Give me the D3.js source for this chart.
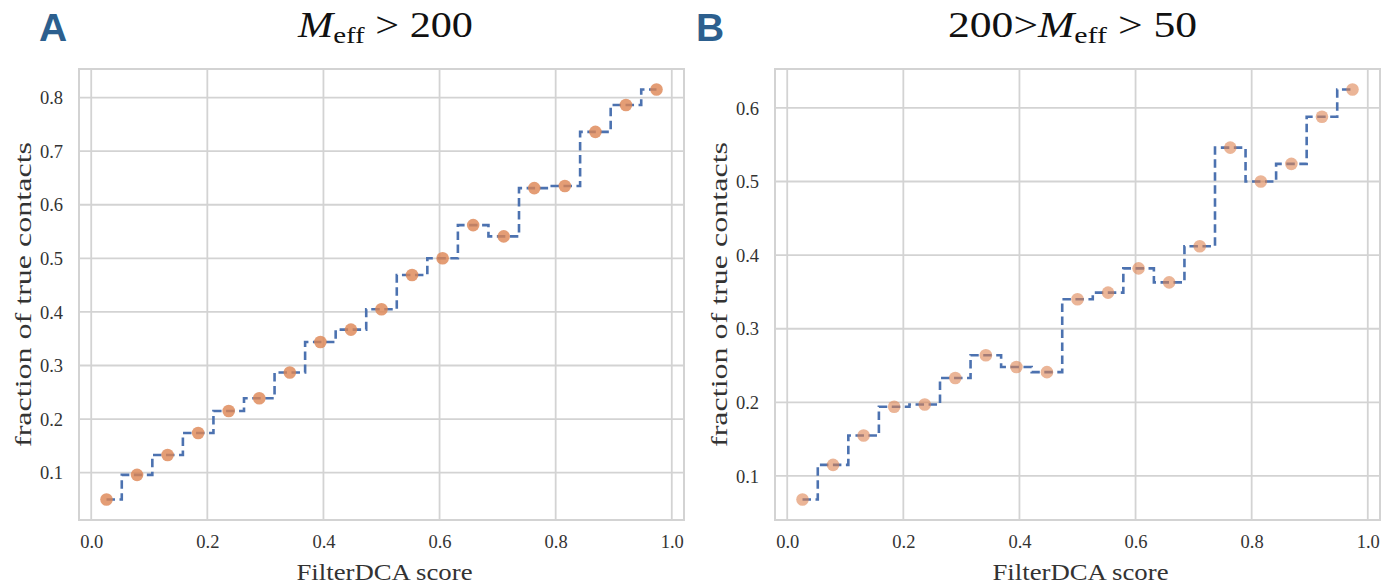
<!DOCTYPE html>
<html>
<head>
<meta charset="utf-8">
<script src="https://cdn.jsdelivr.net/npm/d3@7"></script>
<style>
  html, body { margin: 0; padding: 0; background: #fff; }
  svg text { font-family: "Liberation Serif", "Times New Roman", serif; }
</style>
</head>
<body>
<svg id="chart" width="1392" height="586"></svg>
<script>
// Fraction of true contacts per FilterDCA score bin (19 equal bins on [0, 1])
const binCount = 19;
const scoreBins = d3.range(binCount).map(i => (i + 0.5) / binCount);

const fractionHighMeff = [0.050, 0.096, 0.133, 0.174, 0.215, 0.239, 0.287, 0.344, 0.367, 0.405,
                          0.469, 0.500, 0.562, 0.541, 0.631, 0.635, 0.736, 0.786, 0.815];
const fractionMidMeff  = [0.068, 0.115, 0.155, 0.194, 0.197, 0.233, 0.264, 0.248, 0.241, 0.340,
                          0.349, 0.382, 0.363, 0.412, 0.546, 0.500, 0.524, 0.588, 0.625];

const xTicks = [0.0, 0.2, 0.4, 0.6, 0.8, 1.0];
const yTicksHigh = [0.1, 0.2, 0.3, 0.4, 0.5, 0.6, 0.7, 0.8];
const yTicksMid = [0.1, 0.2, 0.3, 0.4, 0.5, 0.6];

const xLabel = "FilterDCA score";
const yLabel = "fraction of true contacts";

const svg = d3.select("#chart");

const panels = [
  { letter: "A", values: fractionHighMeff, yTicks: yTicksHigh, left: 79, right: 684,
    letterX: 39, alpha: 0.8, titleWidth: 175, titleShift: 4,
    title: [{ t: "M", italic: true }, { t: "eff", sub: true }, { t: " > 200" }] },
  { letter: "B", values: fractionMidMeff, yTicks: yTicksMid, left: 775, right: 1380,
    letterX: 696, alpha: 0.6, titleWidth: 249, titleShift: -5,
    title: [{ t: "200>" }, { t: "M", italic: true }, { t: "eff", sub: true }, { t: " > 50" }] }
];

const plotTop = 69, plotBottom = 520;

// matplotlib-style 5% data margins
function padded(lo, hi) {
  const m = (hi - lo) * 0.05;
  return [lo - m, hi + m];
}

panels.forEach(p => {
  const x = d3.scaleLinear()
    .domain(padded(d3.min(scoreBins), d3.max(scoreBins)))
    .range([p.left, p.right]);
  const y = d3.scaleLinear()
    .domain(padded(d3.min(p.values), d3.max(p.values)))
    .range([plotBottom, plotTop]);

  const g = svg.append("g");

  // grid
  const gridColor = "#d3d3d3";
  g.append("g").selectAll("line").data(xTicks).join("line")
    .attr("x1", d => x(d)).attr("x2", d => x(d))
    .attr("y1", plotTop).attr("y2", plotBottom)
    .attr("stroke", gridColor).attr("stroke-width", 1.8);
  g.append("g").selectAll("line").data(p.yTicks).join("line")
    .attr("x1", p.left).attr("x2", p.right)
    .attr("y1", d => y(d)).attr("y2", d => y(d))
    .attr("stroke", gridColor).attr("stroke-width", 1.8);

  // frame
  g.append("rect")
    .attr("x", p.left).attr("y", plotTop)
    .attr("width", p.right - p.left).attr("height", plotBottom - plotTop)
    .attr("fill", "none").attr("stroke", gridColor).attr("stroke-width", 2);

  // axes (labels only, no tick marks)
  const xAxis = d3.axisBottom(x).tickValues(xTicks).tickFormat(d3.format(".1f")).tickSize(0).tickPadding(0);
  const gx = g.append("g").attr("transform", `translate(0,${plotBottom})`).call(xAxis);
  gx.select(".domain").remove();
  gx.selectAll("text")
    .attr("y", 28).attr("dy", 0)
    .style("font-family", '"Liberation Serif", serif')
    .style("font-size", "18.5px").style("fill", "#333");

  const yAxis = d3.axisLeft(y).tickValues(p.yTicks).tickFormat(d3.format(".1f")).tickSize(0).tickPadding(16);
  const gy = g.append("g").attr("transform", `translate(${p.left},0)`).call(yAxis);
  gy.select(".domain").remove();
  gy.selectAll("text")
    .attr("dy", "0.33em")
    .style("font-family", '"Liberation Serif", serif')
    .style("font-size", "18.5px").style("fill", "#333");

  // stepped dashed line (steps-mid)
  const line = d3.line()
    .x((d, i) => x(scoreBins[i]))
    .y(d => y(d))
    .curve(d3.curveStep);
  g.append("path")
    .datum(p.values)
    .attr("d", line)
    .attr("fill", "none")
    .attr("stroke", "#4C72B0")
    .attr("stroke-width", 2.6)
    .attr("stroke-dasharray", "8.5,4.5");

  // bin markers
  g.append("g").selectAll("circle").data(p.values).join("circle")
    .attr("cx", (d, i) => x(scoreBins[i]))
    .attr("cy", d => y(d))
    .attr("r", 6.3)
    .attr("fill", "#DD8452")
    .attr("fill-opacity", p.alpha);

  // axis labels
  const cx = (p.left + p.right) / 2;
  g.append("text")
    .attr("x", cx + 3).attr("y", 580)
    .attr("text-anchor", "middle")
    .attr("textLength", 176).attr("lengthAdjust", "spacingAndGlyphs")
    .style("font-size", "24px").style("fill", "#333")
    .text(xLabel);
  g.append("text")
    .attr("transform", `translate(${p.left - 48},${(plotTop + plotBottom) / 2}) rotate(-90)`)
    .attr("text-anchor", "middle")
    .attr("textLength", 305).attr("lengthAdjust", "spacingAndGlyphs")
    .style("font-size", "24px").style("fill", "#333")
    .text(yLabel);

  // title with subscript
  const title = g.append("text")
    .attr("x", cx + p.titleShift).attr("y", 37)
    .attr("text-anchor", "middle")
    .attr("textLength", p.titleWidth).attr("lengthAdjust", "spacingAndGlyphs")
    .style("font-size", "35px").style("fill", "#111");
  p.title.forEach((part, i) => {
    const ts = title.append("tspan").text(part.t);
    if (part.italic) ts.style("font-style", "italic");
    if (part.sub) ts.style("font-size", "24px").attr("dy", 6);
    else if (i > 0 && p.title[i - 1].sub) ts.attr("dy", -6);
  });

  // panel letter
  g.append("text")
    .attr("x", p.letterX).attr("y", 41)
    .style("font-family", '"Liberation Sans", Arial, sans-serif')
    .style("font-weight", "bold")
    .style("font-size", "39px")
    .style("fill", "#2c5f8e")
    .text(p.letter);
});
</script>
</body>
</html>
